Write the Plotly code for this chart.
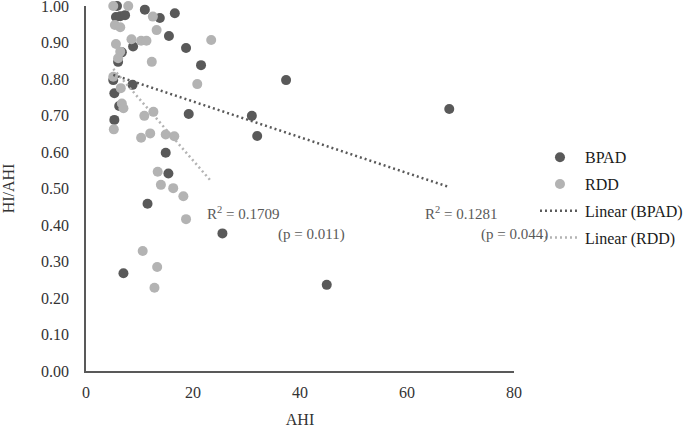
import numpy as np
import plotly.graph_objects as go

# BPAD series (AHI, HI/AHI)
bpad_ahi = [5.8, 11.0, 16.6, 13.8, 5.6, 6.4, 7.3, 15.5, 8.8, 18.7, 6.7, 6.0, 21.5, 5.1, 8.7,
            37.4, 67.9, 19.2, 31.0, 32.0, 5.3, 6.2, 5.3, 14.9, 15.4, 11.5, 25.5, 45.0, 7.0]
bpad_ratio = [1.00, 0.99, 0.98, 0.967, 0.97, 0.972, 0.975, 0.918, 0.889, 0.885, 0.873, 0.847, 0.838, 0.797, 0.784,
              0.797, 0.718, 0.704, 0.699, 0.644, 0.761, 0.726, 0.688, 0.598, 0.541, 0.458, 0.377, 0.236, 0.268]

# RDD series (AHI, HI/AHI)
rdd_ahi = [5.1, 7.9, 12.5, 5.4, 6.4, 13.2, 8.5, 10.3, 11.3, 5.6, 6.4, 6.0, 12.3, 23.4, 20.8, 5.1, 6.5,
           6.7, 7.0, 10.9, 12.6, 5.2, 10.3, 12.0, 14.9, 16.5, 13.4, 14.0, 16.3, 18.2, 18.7, 10.6, 13.3, 12.8]
rdd_ratio = [1.00, 1.00, 0.971, 0.948, 0.942, 0.934, 0.909, 0.905, 0.905, 0.896, 0.875, 0.857, 0.847, 0.907, 0.786, 0.806, 0.775,
             0.733, 0.72, 0.699, 0.71, 0.662, 0.639, 0.651, 0.648, 0.643, 0.546, 0.51, 0.501, 0.479, 0.416, 0.329, 0.285, 0.228]

x_ticks = [0, 20, 40, 60, 80]
y_ticks = [0.0, 0.1, 0.2, 0.3, 0.4, 0.5, 0.6, 0.7, 0.8, 0.9, 1.0]

stat_labels = ["R<sup>2</sup> = 0.1709", "(p = 0.011)", "R<sup>2</sup> = 0.1281", "(p = 0.044)"]

DARK = "#595959"
LIGHT = "#b3b3b3"
TXT = "#333333"
FONT = "Liberation Serif"


def fit_line(xs, ys):
    xs = np.asarray(xs, float)
    ys = np.asarray(ys, float)
    m, b = np.polyfit(xs, ys, 1)
    xl = np.array([xs.min(), xs.max()])
    return xl, m * xl + b


fig = go.Figure()
fig.add_trace(go.Scatter(x=bpad_ahi, y=bpad_ratio, mode="markers", name="BPAD",
                         marker=dict(color=DARK, size=10), cliponaxis=False, legendgroup="a"))
fig.add_trace(go.Scatter(x=rdd_ahi, y=rdd_ratio, mode="markers", name="RDD",
                         marker=dict(color=LIGHT, size=10), cliponaxis=False, legendgroup="b"))
bx, by = fit_line(bpad_ahi, bpad_ratio)
fig.add_trace(go.Scatter(x=bx, y=by, mode="lines", name="Linear (BPAD)",
                         line=dict(color=DARK, width=2.5, dash="2px,3px"), legendgroup="c"))
rx, ry = fit_line(rdd_ahi, rdd_ratio)
fig.add_trace(go.Scatter(x=rx, y=ry, mode="lines", name="Linear (RDD)",
                         line=dict(color=LIGHT, width=2.5, dash="2px,3px"), legendgroup="d"))

ann_pos = [(22.2, 0.432), (35.6, 0.375), (62.9, 0.432), (73.5, 0.375)]
for txt, (ax, ay) in zip(stat_labels, ann_pos):
    fig.add_annotation(x=ax, y=ay, xref="x", yref="y", text=txt, showarrow=False,
                       xanchor="left", yanchor="middle",
                       font=dict(family=FONT, size=15, color=DARK))

fig.update_layout(
    width=685, height=428,
    margin=dict(l=86, r=171, t=6, b=57, autoexpand=False),
    paper_bgcolor="white", plot_bgcolor="white",
    font=dict(family=FONT, size=16, color=TXT),
    showlegend=True,
    legend=dict(x=1.049, y=0.632, xanchor="left", yanchor="top",
                font=dict(family=FONT, size=16, color="#1a1a1a"),
                tracegroupgap=3, itemwidth=40, bgcolor="rgba(0,0,0,0)"),
)
fig.update_xaxes(range=[0, 80], tickvals=x_ticks, showgrid=False, zeroline=False,
                 showline=True, linecolor=DARK, linewidth=1.5,
                 ticks="outside", ticklen=6, tickcolor="rgba(0,0,0,0)",
                 tickfont=dict(family=FONT, size=16, color=TXT), ticklabeloverflow="allow",
                 title=dict(text="AHI", font=dict(family=FONT, size=16, color=TXT), standoff=14),
                 automargin=False)
fig.update_yaxes(range=[0, 1], tickvals=y_ticks, tickformat=".2f", showgrid=False, zeroline=False,
                 showline=True, linecolor=DARK, linewidth=1.5,
                 ticks="outside", ticklen=12, tickcolor="rgba(0,0,0,0)",
                 tickfont=dict(family=FONT, size=16, color=TXT), ticklabeloverflow="allow",
                 title=dict(text="HI/AHI", font=dict(family=FONT, size=16, color=TXT), standoff=24),
                 automargin=False)

fig.write_html("out.html", post_script="document.body.style.margin='0';",
               config={"displayModeBar": False})
